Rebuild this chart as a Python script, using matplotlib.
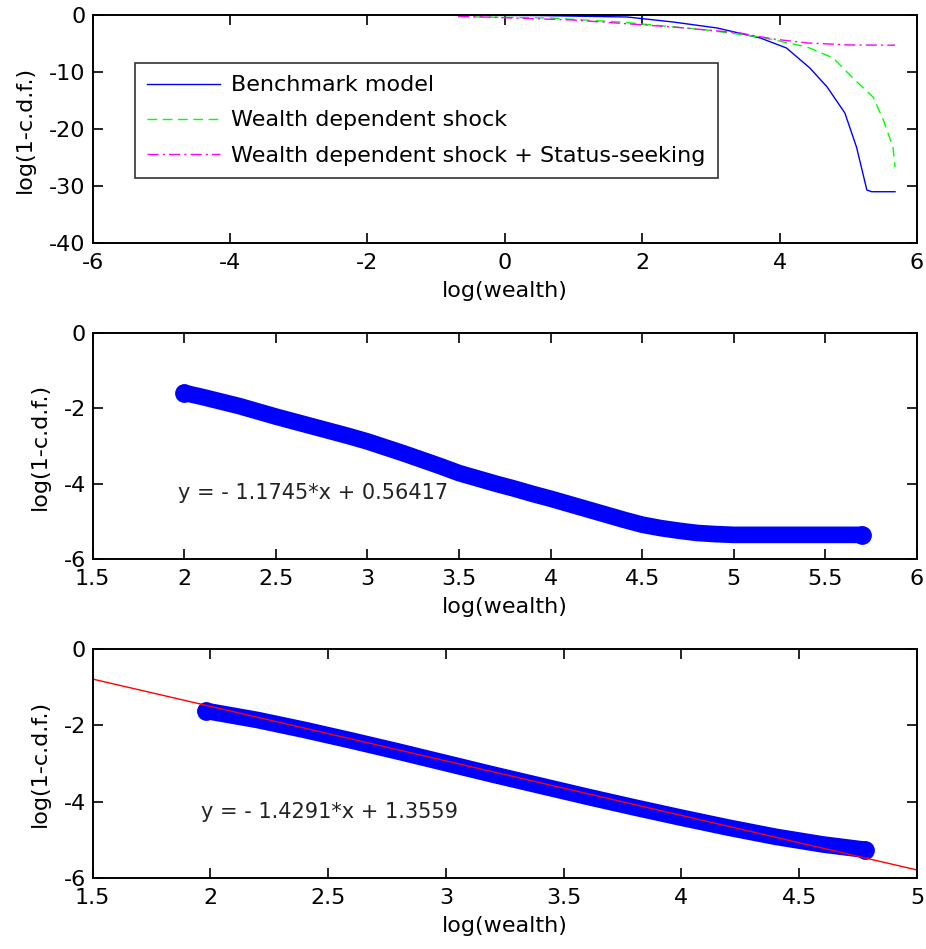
import matplotlib
matplotlib.use("Agg")
import matplotlib.pyplot as plt

plt.rcParams["font.family"] = "DejaVu Sans"
plt.rcParams["axes.unicode_minus"] = False

# --- top panel: log(1-cdf) vs log(wealth), three models ---
bench_x = [-0.70, 0.50, 1.00, 1.78, 2.45, 3.09, 3.72, 4.10, 4.44, 4.69, 4.95, 5.12, 5.27, 5.34, 5.68]
bench_y = [-0.05, -0.10, -0.20, -0.35, -1.23, -2.28, -4.04, -5.79, -9.30, -12.6, -17.2, -23.2, -30.7, -31.0, -31.0]

shock_x = [-0.68, 0.66, 1.68, 2.94, 3.72, 4.40, 4.78, 5.07, 5.36, 5.51, 5.65, 5.68]
shock_y = [-0.30, -0.53, -1.23, -2.63, -3.86, -5.61, -7.54, -11.1, -14.4, -18.4, -23.2, -26.7]

status_x = [-0.68, 0.99, 2.45, 3.42, 3.90, 4.40, 5.02, 5.68]
status_y = [-0.20, -0.88, -2.10, -3.16, -4.20, -4.90, -5.26, -5.30]

legend_labels = ["Benchmark model", "Wealth dependent shock",
                 "Wealth dependent shock + Status-seeking"]

# --- middle panel: status-seeking tail, log(wealth) >= 2 ---
mid_x = [2.0, 2.1, 2.2, 2.3, 2.4, 2.5, 2.6, 2.7, 2.8, 2.9, 3.0, 3.1, 3.2, 3.3, 3.4,
         3.5, 3.6, 3.7, 3.8, 3.9, 4.0, 4.1, 4.2, 4.3, 4.4, 4.5, 4.6, 4.7, 4.8, 4.9,
         5.0, 5.2, 5.4, 5.7]
mid_y = [-1.59, -1.70, -1.82, -1.94, -2.08, -2.22, -2.35, -2.48, -2.61, -2.74, -2.88,
         -3.04, -3.20, -3.37, -3.54, -3.72, -3.86, -4.00, -4.13, -4.27, -4.40, -4.54,
         -4.68, -4.82, -4.96, -5.09, -5.18, -5.25, -5.31, -5.34, -5.36, -5.36, -5.36,
         -5.36]
mid_text = "y = - 1.1745*x + 0.56417"

# --- bottom panel: truncated tail with fitted line ---
bot_x = [1.98, 2.2, 2.4, 2.6, 2.8, 3.0, 3.2, 3.4, 3.6, 3.8, 4.0, 4.2, 4.4, 4.6, 4.78]
bot_y = [-1.62, -1.86, -2.12, -2.40, -2.69, -2.99, -3.29, -3.58, -3.87, -4.15, -4.42,
         -4.68, -4.92, -5.12, -5.26]
fit_slope, fit_icpt = -1.4291, 1.3559
fit_x = [1.5, 5.0]
bot_text = "y = - 1.4291*x + 1.3559"

top_xticks = [-6, -4, -2, 0, 2, 4, 6]
top_yticks = [-40, -30, -20, -10, 0]
mid_xticks = [1.5, 2, 2.5, 3, 3.5, 4, 4.5, 5, 5.5, 6]
bot_xticks = [1.5, 2, 2.5, 3, 3.5, 4, 4.5, 5]
sub_yticks = [-6, -4, -2, 0]

FS = 16


def style(ax, xt, yt):
    ax.set_xticks(xt)
    ax.set_xticklabels([f"{v:g}" for v in xt])
    ax.set_yticks(yt)
    ax.set_yticklabels([f"{v:g}" for v in yt])
    ax.tick_params(direction="in", length=7, width=1.2, top=True, right=True,
                   labelsize=FS)
    ax.tick_params(axis="x", pad=7)
    ax.tick_params(axis="y", pad=5)
    for s in ax.spines.values():
        s.set_linewidth(1.4)
    ax.set_xlabel("log(wealth)", fontsize=FS, labelpad=6)
    ax.set_ylabel("log(1-c.d.f.)", fontsize=FS, labelpad=10)


fig = plt.figure(figsize=(9.26, 9.49), dpi=100)
ax1 = fig.add_axes([0.1001, 0.7439, 0.8902, 0.2403])
ax2 = fig.add_axes([0.1001, 0.4110, 0.8902, 0.2381])
ax3 = fig.add_axes([0.1001, 0.0748, 0.8902, 0.2413])

ax1.plot(bench_x, bench_y, color="#0000ff", lw=1.0, label=legend_labels[0])
ax1.plot(shock_x, shock_y, color="#00ff00", lw=1.0, dashes=[7, 4], label=legend_labels[1])
ax1.plot(status_x, status_y, color="#ff00ff", lw=1.0, dashes=[8, 3, 1.5, 3],
         label=legend_labels[2])
ax1.set_xlim(-6, 6)
ax1.set_ylim(-40, 0)
style(ax1, top_xticks, top_yticks)
leg = ax1.legend(loc="upper left", bbox_to_anchor=(0.051, 0.789), borderaxespad=0,
                 fontsize=FS, frameon=True, fancybox=False, handlelength=3.3,
                 handletextpad=0.5, labelspacing=0.68, borderpad=0.55)
leg.get_frame().set_edgecolor("black")
leg.get_frame().set_linewidth(1.2)

# thick blue band = dense open circles in the original
ax2.plot(mid_x, mid_y, color="#0000ff", lw=12, solid_capstyle="round",
         solid_joinstyle="round")
ax2.plot([mid_x[0], mid_x[-1]], [mid_y[0], mid_y[-1]], "o", ms=12, mfc="none",
         mec="#0000ff", mew=1.5)
ax2.text(1.966, -4.24, mid_text, fontsize=15, va="center", ha="left", color="#222222")
ax2.set_xlim(1.5, 6)
ax2.set_ylim(-6, 0)
style(ax2, mid_xticks, sub_yticks)

ax3.plot(bot_x, bot_y, color="#0000ff", lw=12, solid_capstyle="round",
         solid_joinstyle="round")
ax3.plot([bot_x[0], bot_x[-1]], [bot_y[0], bot_y[-1]], "o", ms=12, mfc="none",
         mec="#0000ff", mew=1.5)
ax3.plot(fit_x, [fit_slope * v + fit_icpt for v in fit_x], color="#ff0000", lw=1.0)
ax3.text(1.96, -4.26, bot_text, fontsize=15, va="center", ha="left", color="#222222")
ax3.set_xlim(1.5, 5)
ax3.set_ylim(-6, 0)
style(ax3, bot_xticks, sub_yticks)

fig.savefig("out.png", dpi=100, facecolor="white")
